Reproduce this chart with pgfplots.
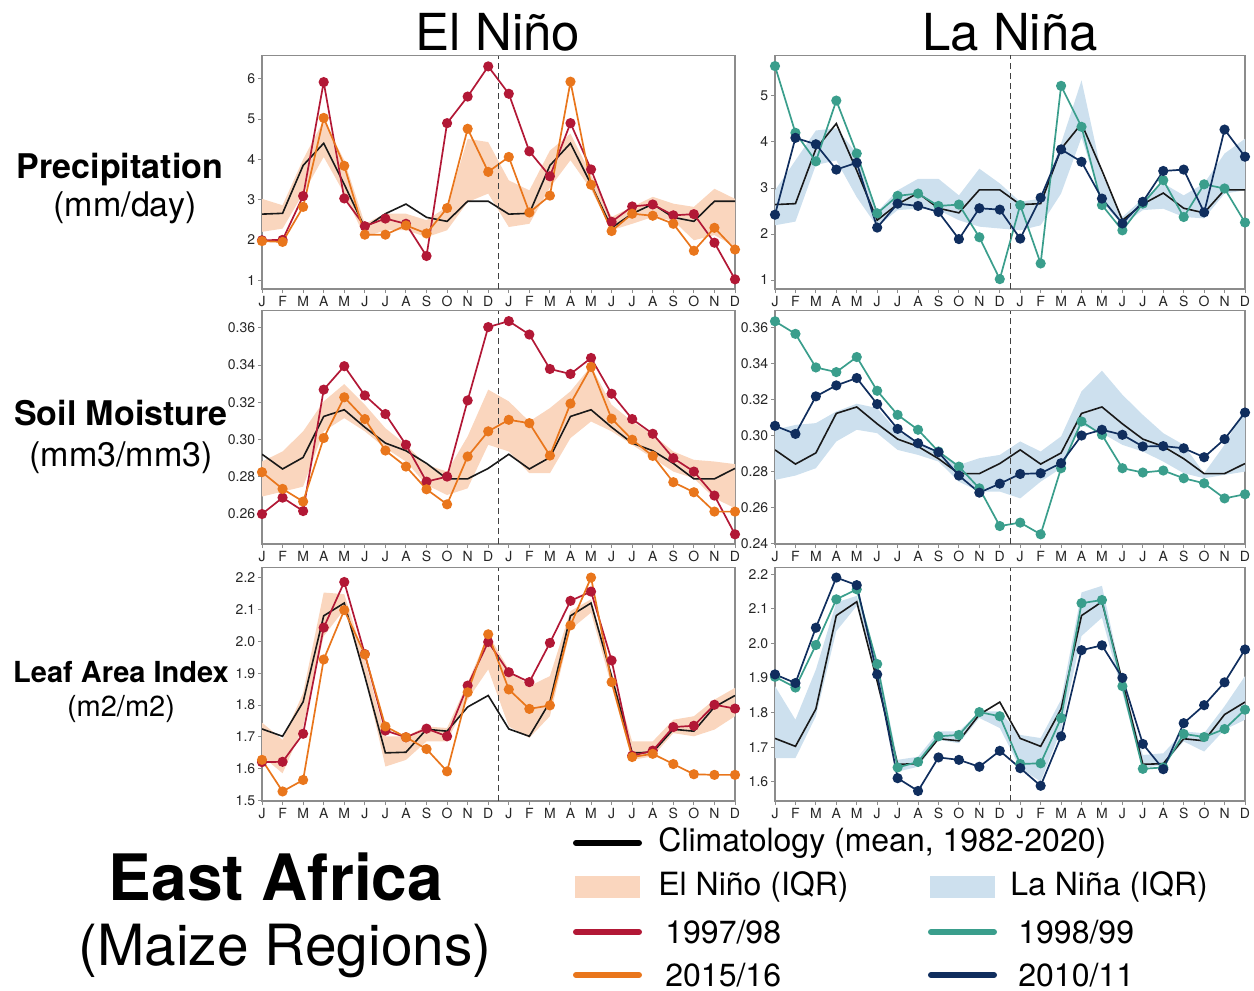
\documentclass[border=0pt]{standalone}
\usepackage{fontspec}
\setmainfont{TeX Gyre Heros}
\usepackage{pgfplots}
\pgfplotsset{compat=1.18}
\usepackage{pgfplotstable}
\usepgfplotslibrary{fillbetween}

\definecolor{c97}{RGB}{178,24,54}
\definecolor{c15}{RGB}{233,118,28}
\definecolor{c98}{RGB}{58,158,140}
\definecolor{c10}{RGB}{16,46,94}
\definecolor{ninoband}{RGB}{250,214,190}
\definecolor{ninaband}{RGB}{205,224,238}
\definecolor{frame}{RGB}{140,140,140}

% columns: month index, climatology, event year A, event year B, IQR low, IQR high
\pgfplotstableread{
m clim a b lo hi
0 2.64 1.99 1.97 2.20 3.02
1 2.66 2.00 1.95 2.28 2.86
2 3.85 3.09 2.82 3.15 4.00
3 4.40 5.92 5.03 4.06 4.97
4 3.38 3.03 3.84 3.15 3.98
5 2.30 2.34 2.13 2.07 2.40
6 2.65 2.53 2.13 2.24 2.65
7 2.89 2.40 2.36 2.24 2.65
8 2.56 1.60 2.16 2.07 2.49
9 2.46 4.90 2.79 2.24 2.82
10 2.96 5.56 4.76 2.94 4.51
11 2.96 6.31 3.69 3.15 4.43
12 2.64 5.63 4.06 2.32 3.48
13 2.66 4.20 2.68 2.40 3.23
14 3.85 3.58 3.10 3.30 4.22
15 4.40 4.90 5.93 3.98 4.64
16 3.38 3.75 3.37 3.25 3.62
17 2.30 2.45 2.22 2.24 2.57
18 2.65 2.83 2.65 2.40 2.82
19 2.89 2.88 2.60 2.57 3.07
20 2.56 2.61 2.40 2.48 2.90
21 2.46 2.64 1.73 1.99 2.82
22 2.96 1.93 2.30 2.12 3.27
23 2.96 1.02 1.76 1.83 3.02
}\precipNino

\pgfplotstableread{
m clim a b lo hi
0 2.64 5.65 2.42 2.19 2.95
1 2.66 4.20 4.09 2.27 3.60
2 3.85 3.58 3.95 3.50 4.25
3 4.40 4.90 3.40 3.60 4.30
4 3.38 3.75 3.55 2.80 3.75
5 2.30 2.45 2.14 2.16 2.48
6 2.65 2.83 2.66 2.52 2.95
7 2.89 2.88 2.61 2.55 3.20
8 2.56 2.61 2.48 2.52 3.20
9 2.46 2.64 1.89 2.30 2.84
10 2.96 1.93 2.56 2.16 3.42
11 2.96 1.02 2.53 2.12 3.10
12 2.64 2.63 1.90 2.08 2.70
13 2.66 1.36 2.79 2.19 2.77
14 3.85 5.22 3.84 2.88 3.97
15 4.40 4.33 3.57 4.10 5.34
16 3.38 2.63 2.77 2.70 3.30
17 2.30 2.08 2.23 2.19 2.37
18 2.65 2.66 2.70 2.52 2.77
19 2.89 3.17 3.37 2.55 3.10
20 2.56 2.37 3.40 2.37 2.84
21 2.46 3.08 2.47 2.34 3.10
22 2.96 2.99 4.27 2.88 3.75
23 2.96 2.25 3.68 2.95 4.07
}\precipNina

\pgfplotstableread{
m clim a b lo hi
0 .2921 .2600 .2825 .2694 .2882
1 .2842 .2688 .2735 .2720 .2936
2 .2904 .2616 .2667 .2747 .3044
3 .3124 .3268 .3008 .3044 .3205
4 .3160 .3394 .3227 .3115 .3298
5 .3066 .3237 .3110 .3044 .3187
6 .2981 .3137 .2941 .2954 .3061
7 .2940 .2972 .2855 .2882 .2972
8 .2872 .2774 .2733 .2756 .2864
9 .2789 .2801 .2652 .2702 .2828
10 .2789 .3210 .2909 .2738 .3017
11 .2845 .3604 .3044 .2972 .3268
12 .2921 .3636 .3106 .2936 .3205
13 .2842 .3564 .3088 .2819 .3097
14 .2904 .3379 .2914 .2819 .3169
15 .3124 .3352 .3193 .3008 .3259
16 .3160 .3438 .3390 .3097 .3394
17 .3066 .3246 .3112 .3044 .3187
18 .2981 .3110 .2999 .2972 .3097
19 .2940 .3031 .2912 .2900 .3026
20 .2872 .2900 .2771 .2828 .2936
21 .2789 .2828 .2717 .2792 .2891
22 .2789 .2699 .2613 .2685 .2882
23 .2845 .2491 .2613 .2631 .2868
}\soilNino

\pgfplotstableread{
m clim a b lo hi
0 .2921 .3637 .3055 .2754 .3033
1 .2842 .3567 .3010 .2778 .3060
2 .2904 .3380 .3219 .2819 .3070
3 .3124 .3354 .3280 .2968 .3135
4 .3160 .3438 .3321 .3033 .3178
5 .3066 .3250 .3176 .3014 .3154
6 .2981 .3116 .3038 .2921 .3023
7 .2940 .3033 .2958 .2893 .2968
8 .2872 .2912 .2908 .2856 .2912
9 .2789 .2828 .2778 .2744 .2837
10 .2789 .2707 .2683 .2689 .2875
11 .2845 .2497 .2733 .2689 .2893
12 .2921 .2516 .2787 .2651 .2968
13 .2842 .2451 .2791 .2744 .2912
14 .2904 .2819 .2847 .2819 .2996
15 .3124 .3079 .3001 .3060 .3247
16 .3160 .3005 .3033 .3014 .3362
17 .3066 .2819 .3005 .2949 .3228
18 .2981 .2795 .2940 .2912 .3116
19 .2940 .2806 .2942 .2856 .3014
20 .2872 .2763 .2930 .2791 .2949
21 .2789 .2735 .2880 .2763 .2791
22 .2789 .2651 .2981 .2782 .2949
23 .2845 .2674 .3129 .2800 .3154
}\soilNina

\pgfplotstableread{
m clim a b lo hi
0 1.725 1.621 1.628 1.640 1.745
1 1.702 1.622 1.529 1.586 1.691
2 1.810 1.710 1.565 1.733 1.838
3 2.080 2.043 1.943 2.016 2.153
4 2.120 2.186 2.098 2.100 2.148
5 1.890 1.960 1.959 1.891 1.943
6 1.650 1.720 1.733 1.607 1.702
7 1.652 1.699 1.699 1.628 1.702
8 1.724 1.726 1.662 1.686 1.733
9 1.718 1.702 1.592 1.686 1.728
10 1.794 1.861 1.840 1.817 1.870
11 1.830 1.998 2.022 1.912 2.022
12 1.725 1.903 1.849 1.733 1.912
13 1.702 1.872 1.788 1.697 1.859
14 1.810 1.995 1.799 1.765 1.891
15 2.080 2.127 2.050 2.037 2.095
16 2.120 2.156 2.200 2.090 2.132
17 1.890 1.940 1.872 1.859 1.901
18 1.650 1.641 1.637 1.628 1.686
19 1.652 1.657 1.647 1.639 1.686
20 1.724 1.731 1.615 1.712 1.754
21 1.718 1.735 1.583 1.702 1.765
22 1.794 1.801 1.581 1.723 1.817
23 1.830 1.789 1.581 1.765 1.854
}\laiNino

\pgfplotstableread{
m clim a b lo hi
0 1.725 1.903 1.910 1.668 1.876
1 1.702 1.872 1.885 1.668 1.779
2 1.810 1.995 2.045 1.789 1.924
3 2.080 2.127 2.190 2.035 2.118
4 2.120 2.156 2.168 2.108 2.137
5 1.890 1.940 1.910 1.895 1.953
6 1.650 1.641 1.610 1.629 1.663
7 1.652 1.657 1.573 1.643 1.672
8 1.724 1.731 1.670 1.721 1.745
9 1.718 1.735 1.663 1.711 1.745
10 1.794 1.801 1.643 1.784 1.803
11 1.830 1.789 1.689 1.755 1.803
12 1.725 1.651 1.639 1.639 1.735
13 1.702 1.653 1.588 1.600 1.726
14 1.810 1.784 1.731 1.750 1.837
15 2.080 2.116 1.980 2.021 2.147
16 2.120 2.125 1.994 2.074 2.166
17 1.890 1.876 1.900 1.856 1.895
18 1.650 1.637 1.709 1.639 1.677
19 1.652 1.641 1.636 1.648 1.682
20 1.724 1.738 1.769 1.716 1.745
21 1.718 1.729 1.821 1.687 1.740
22 1.794 1.752 1.887 1.750 1.818
23 1.830 1.808 1.982 1.779 1.905
}\laiNina

\pgfplotsset{
  panel/.style={
    scale only axis, height=116.75pt, anchor=south west,
    xmin=0, xmax=23, xtick={0,...,23},
    xticklabels={J,F,M,A,M,J,J,A,S,O,N,D,J,F,M,A,M,J,J,A,S,O,N,D},
    axis line style={frame, line width=0.6pt},
    tick style={frame, line width=0.5pt},
    tick align=outside, major tick length=2pt,
    xtick pos=bottom, ytick pos=left,
    ticklabel style={font=\fontsize{7}{8}\selectfont, text=black!85},
    xticklabel style={inner sep=1.2pt},
    yticklabel style={inner sep=1.2pt},
    /pgf/number format/assume math mode=true,
  },
  ninocol/.style={panel, at={(131pt,#1)}, width=236.5pt},
  ninacol/.style={panel, at={(387.5pt,#1)}, width=235pt},
  clim/.style={black!90, line width=0.8pt, mark=none},
  ser/.style={#1, line width=0.85pt, mark=*, mark size=2.1pt, mark options={solid, fill=#1, draw=#1}},
}

% one panel: band, climatology, two event years, and the year divider
\newcommand{\panelplots}[4]{%
  \addplot[draw=none, name path=hi, forget plot] table[x=m, y=hi] {#1};
  \addplot[draw=none, name path=lo, forget plot] table[x=m, y=lo] {#1};
  \addplot[#2] fill between[of=hi and lo];
  \addplot[clim] table[x=m, y=clim] {#1};
  \addplot[ser=#3] table[x=m, y=a] {#1};
  \addplot[ser=#4] table[x=m, y=b] {#1};
  \draw[densely dashed, black!75, line width=0.5pt]
    ({axis cs:11.5,0}|-{rel axis cs:0,0}) -- ({axis cs:11.5,0}|-{rel axis cs:0,1});
}

\begin{document}
\begin{tikzpicture}

% precipitation
\begin{axis}[ninocol=-144.5pt, ymin=0.78, ymax=6.58, ytick={1,...,6}]
  \panelplots{\precipNino}{ninoband}{c97}{c15}
\end{axis}
\begin{axis}[ninacol=-144.5pt, ymin=0.805, ymax=5.88, ytick={1,...,5}]
  \panelplots{\precipNina}{ninaband}{c98}{c10}
\end{axis}

% soil moisture
\begin{axis}[ninocol=-272pt, ymin=0.2439, ymax=0.3693, ytick={0.26,0.28,...,0.365},
  yticklabel style={/pgf/number format/.cd, fixed, fixed zerofill, precision=2}]
  \panelplots{\soilNino}{ninoband}{c97}{c15}
\end{axis}
\begin{axis}[ninacol=-272pt, ymin=0.2397, ymax=0.3697, ytick={0.24,0.26,...,0.365},
  yticklabel style={/pgf/number format/.cd, fixed, fixed zerofill, precision=2}]
  \panelplots{\soilNina}{ninaband}{c98}{c10}
\end{axis}

% leaf area index
\begin{axis}[ninocol=-400.5pt, ymin=1.499, ymax=2.2315, ytick={1.5,1.6,...,2.25},
  yticklabel style={/pgf/number format/.cd, fixed, fixed zerofill, precision=1}]
  \panelplots{\laiNino}{ninoband}{c97}{c15}
\end{axis}
\begin{axis}[ninacol=-400.5pt, ymin=1.544, ymax=2.219, ytick={1.6,1.7,...,2.25},
  yticklabel style={/pgf/number format/.cd, fixed, fixed zerofill, precision=1}]
  \panelplots{\laiNina}{ninaband}{c98}{c10}
\end{axis}

% column titles
\node[anchor=base, inner sep=0pt, font=\fontsize{25.5}{30}\selectfont] at (249pt,-25pt) {El Niño};
\node[anchor=base, inner sep=0pt, font=\fontsize{25.5}{30}\selectfont] at (505pt,-25pt) {La Niña};

% row labels
\node[anchor=base, inner sep=0pt, font=\fontsize{17}{20}\selectfont\bfseries] at (60pt,-89pt) {Precipitation};
\node[anchor=base, inner sep=0pt, font=\fontsize{17}{20}\selectfont] at (62.5pt,-108pt) {(mm/day)};
\node[anchor=base, inner sep=0pt, font=\fontsize{17}{20}\selectfont\bfseries] at (60.5pt,-212.5pt) {Soil Moisture};
\node[anchor=base, inner sep=0pt, font=\fontsize{17}{20}\selectfont] at (60.5pt,-233pt) {(mm3/mm3)};
\node[anchor=base, inner sep=0pt, font=\fontsize{14.5}{17}\selectfont\bfseries] at (60.5pt,-341pt) {Leaf Area Index};
\node[anchor=base, inner sep=0pt, font=\fontsize{14.5}{17}\selectfont] at (60.5pt,-358pt) {(m2/m2)};

% region label
\node[anchor=base, inner sep=0pt, font=\fontsize{32}{36}\selectfont\bfseries] at (138pt,-450pt) {East Africa};
\node[anchor=base, inner sep=0pt, font=\fontsize{28.4}{32}\selectfont] at (142.5pt,-482.5pt) {(Maize Regions)};

% legend
\begin{scope}[every node/.style={anchor=west, inner sep=0pt, font=\fontsize{16}{19}\selectfont}]
  \draw[black, line width=3pt, line cap=round] (288pt,-421.5pt) -- (319.5pt,-421.5pt);
  \node at (329pt,-421.5pt) {Climatology (mean, 1982-2020)};
  \fill[ninoband] (287.5pt,-438pt) rectangle (320pt,-449pt);
  \node at (329pt,-443.5pt) {El Niño (IQR)};
  \fill[ninaband] (465pt,-438pt) rectangle (497.5pt,-449pt);
  \node at (505pt,-443.5pt) {La Niña (IQR)};
  \draw[c97, line width=3pt, line cap=round] (288pt,-466pt) -- (319.5pt,-466pt);
  \node at (332.5pt,-466pt) {1997/98};
  \draw[c98, line width=3pt, line cap=round] (465.5pt,-466pt) -- (497pt,-466pt);
  \node at (509pt,-466pt) {1998/99};
  \draw[c15, line width=3pt, line cap=round] (288pt,-487.5pt) -- (319.5pt,-487.5pt);
  \node at (332.5pt,-487.5pt) {2015/16};
  \draw[c10, line width=3pt, line cap=round] (465.5pt,-487.5pt) -- (497pt,-487.5pt);
  \node at (509pt,-487.5pt) {2010/11};
\end{scope}

% page frame
\pgfresetboundingbox
\path[use as bounding box] (0,0) rectangle (627pt,-495.5pt);
\end{tikzpicture}
\end{document}
